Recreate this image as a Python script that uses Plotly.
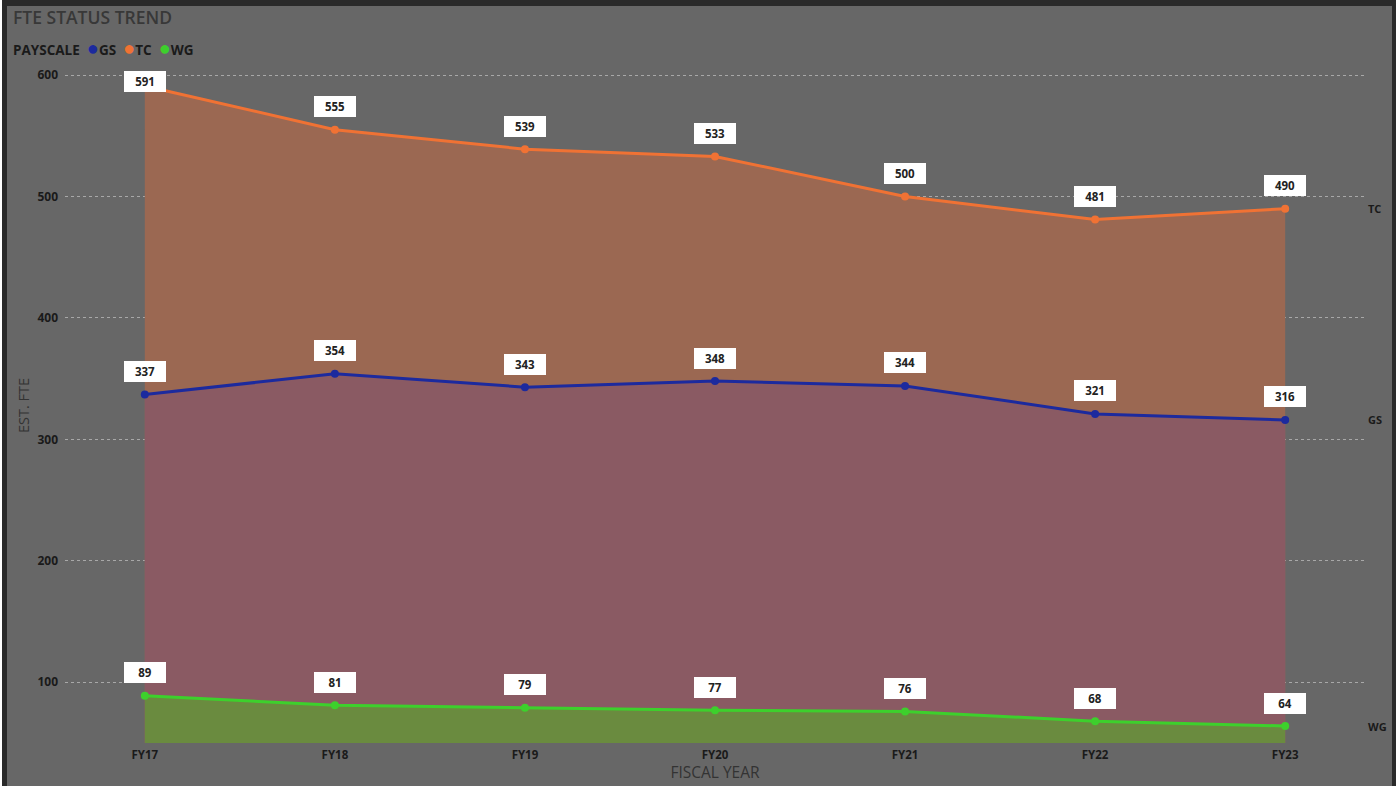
import plotly.graph_objects as go

years = ["FY17", "FY18", "FY19", "FY20", "FY21", "FY22", "FY23"]
tc = [591, 555, 539, 533, 500, 481, 490]
gs = [337, 354, 343, 348, 344, 321, 316]
wg = [89, 81, 79, 77, 76, 68, 64]
y_ticks = [100, 200, 300, 400, 500, 600]

W, H = 1400, 786
ML, MR, MT, MB = 65, 35, 68, 43
PW, PH = W - ML - MR, H - MT - MB
YMIN, YMAX = 50, 605.8
FONT = "Open Sans"
BG = "#676767"

def px2x(px):
    return (px - ML) / PW

def px2y(py):
    return 1 - (py - MT) / PH

def val2py(v):
    return MT + (YMAX - v) / (YMAX - YMIN) * PH

xs = list(range(len(years)))
series = [
    ("TC", tc, "#f07234", "#9b6852"),
    ("GS", gs, "#1c2a9e", "#8a5a63"),
    ("WG", wg, "#3dd02c", "#6a8b3f"),
]

fig = go.Figure()
for name, vals, line_c, fill_c in series:
    fig.add_trace(go.Scatter(
        x=xs, y=vals, name=name, mode="lines+markers",
        line=dict(color=line_c, width=3),
        marker=dict(color=line_c, size=8),
        fill="tozeroy", fillcolor=fill_c, showlegend=False,
    ))

annotations = []
for name, vals, line_c, fill_c in series:
    for i, v in enumerate(vals):
        shift = min(23, val2py(v) - 82)
        annotations.append(dict(
            x=xs[i], y=v, xref="x", yref="y", text=f"<b>{v}</b>",
            showarrow=False, yshift=shift, bgcolor="white", bordercolor="white",
            borderpad=3, width=34, height=13,
            font=dict(family=FONT, size=11.5, color="#222222"),
        ))
    annotations.append(dict(
        x=1, y=vals[-1], xref="paper", yref="y", text=f"<b>{name}</b>",
        xanchor="left", showarrow=False, xshift=1,
        font=dict(family=FONT, size=11, color="#1a1a1a"),
    ))

annotations.append(dict(
    x=px2x(11), y=px2y(17), xref="paper", yref="paper", xanchor="left", yanchor="middle",
    text="FTE STATUS TREND", showarrow=False,
    font=dict(family=FONT, size=17.5, color="#383838", weight=600),
))
dot = "<span style='color:{c};font-size:20px'>●</span>"
annotations.append(dict(
    x=px2x(11), y=px2y(48), xref="paper", yref="paper", xanchor="left", yanchor="middle",
    text=("<b>PAYSCALE</b>  " + dot.format(c="#1c2a9e") + "<b>GS</b>  "
          + dot.format(c="#f07234") + "<b>TC</b>  "
          + dot.format(c="#3dd02c") + "<b>WG</b>"),
    showarrow=False, font=dict(family=FONT, size=13.5, color="#1a1a1a"),
))

shapes = [
    dict(type="rect", xref="paper", yref="paper", x0=px2x(0), x1=px2x(2), y0=px2y(H), y1=px2y(0),
         fillcolor="white", line_width=0, layer="above"),
    dict(type="rect", xref="paper", yref="paper", x0=px2x(2), x1=px2x(7), y0=px2y(H), y1=px2y(0),
         fillcolor="#2a2a2a", line_width=0, layer="above"),
    dict(type="rect", xref="paper", yref="paper", x0=px2x(2), x1=px2x(1396), y0=px2y(6), y1=px2y(0),
         fillcolor="#2a2a2a", line_width=0, layer="above"),
    dict(type="rect", xref="paper", yref="paper", x0=px2x(1392), x1=px2x(1396), y0=px2y(H), y1=px2y(0),
         fillcolor="#2a2a2a", line_width=0, layer="above"),
    dict(type="rect", xref="paper", yref="paper", x0=px2x(1396), x1=px2x(W), y0=px2y(H), y1=px2y(0),
         fillcolor="white", line_width=0, layer="above"),
]

fig.update_layout(
    width=W, height=H,
    margin=dict(l=ML, r=MR, t=MT, b=MB, pad=0),
    paper_bgcolor=BG, plot_bgcolor=BG,
    font=dict(family=FONT, color="#222222"),
    annotations=annotations, shapes=shapes,
    xaxis=dict(
        tickmode="array", tickvals=xs, ticktext=[f"<b>{y}</b>" for y in years],
        range=[-0.42, 6.42], showgrid=False, zeroline=False, showline=False,
        tickfont=dict(family=FONT, size=11.5, color="#1a1a1a"),
        title=dict(text="FISCAL YEAR", font=dict(family=FONT, size=15.5, color="#333333"), standoff=0),
        ticks="", ticklabelstandoff=3,
    ),
    yaxis=dict(
        range=[YMIN, YMAX], tickvals=y_ticks, ticktext=[f"<b>{t}</b>" for t in y_ticks],
        showgrid=True, gridcolor="#a8a8a8", griddash="dot", gridwidth=1,
        zeroline=False, showline=False, ticks="",
        tickfont=dict(family=FONT, size=12, color="#1a1a1a"),
        title=dict(text="EST. FTE", font=dict(family=FONT, size=14.5, color="#333333"), standoff=4),
        ticklabelstandoff=6,
    ),
)

fig.write_html("out.html")
